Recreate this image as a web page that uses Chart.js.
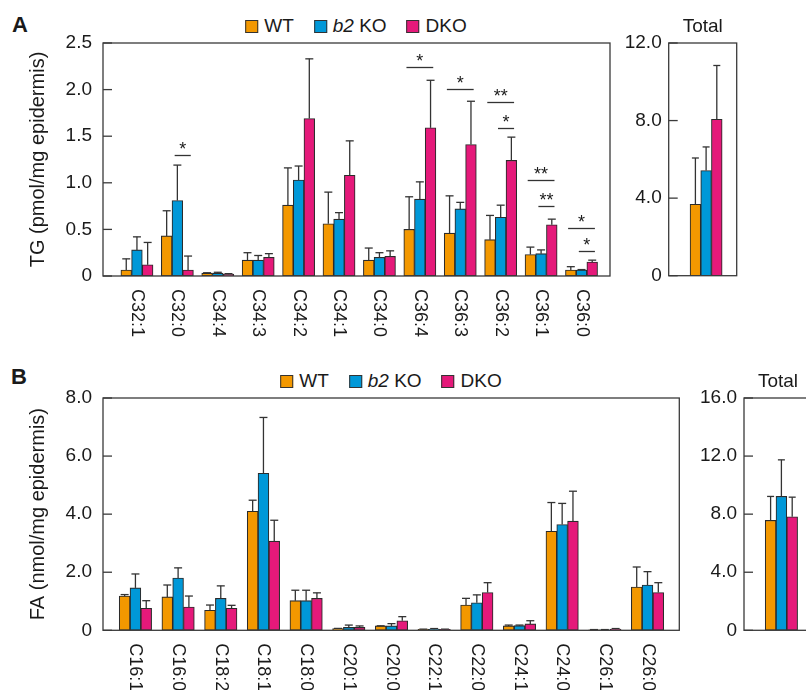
<!DOCTYPE html>
<html><head><meta charset="utf-8">
<script src="https://cdn.jsdelivr.net/npm/chart.js@4.4.1/dist/chart.umd.min.js"></script>
<style>
html,body{margin:0;padding:0;background:#fff;overflow:hidden;width:806px;height:690px;}
body{position:relative;font-family:'Liberation Sans',Arial,sans-serif;color:#1a1a1a;}
canvas{position:absolute;}
.panel{position:absolute;font-weight:bold;font-size:22px;line-height:22px;}
.legend{position:absolute;display:flex;align-items:center;font-size:19px;line-height:22px;white-space:nowrap;transform:translateX(-50%);}
.legend .item{display:flex;align-items:center;margin-right:20px;}
.legend .item:last-child{margin-right:0;}
.legend .sw{width:11px;height:11px;border:1px solid #333;margin-right:6px;}
</style></head>
<body>
<div class="panel" style="left:12px;top:14px;">A</div>
<div class="panel" style="left:11px;top:366px;">B</div>
<div class="legend" id="legA" style="left:356px;top:15px;"></div>
<div class="legend" id="legB" style="left:391px;top:370px;"></div>
<canvas id="cA" style="left:0;top:0;"></canvas>
<canvas id="cAT" style="left:600px;top:0;"></canvas>
<canvas id="cB" style="left:0;top:355px;"></canvas>
<canvas id="cBT" style="left:680px;top:355px;"></canvas>
<script>
// ---------- data ----------
const seriesNames = ['WT', 'b2 KO', 'DKO'];
const seriesColors = ['#F39800', '#0098D8', '#E5197A'];

const tgCategories = ['C32:1','C32:0','C34:4','C34:3','C34:2','C34:1','C34:0','C36:4','C36:3','C36:2','C36:1','C36:0'];
const tgWT     = [0.064,0.43,0.03,0.17,0.76,0.56,0.17,0.50,0.46,0.39,0.23,0.064];
const tgWTErr  = [0.12,0.27,0.005,0.08,0.40,0.34,0.13,0.35,0.40,0.26,0.08,0.036];
const tgB2     = [0.28,0.81,0.03,0.17,1.03,0.61,0.20,0.825,0.72,0.63,0.24,0.064];
const tgB2Err  = [0.14,0.38,0.01,0.05,0.15,0.07,0.05,0.185,0.07,0.13,0.04,0.005];
const tgDKO    = [0.12,0.064,0.02,0.20,1.69,1.08,0.21,1.59,1.41,1.24,0.55,0.15];
const tgDKOErr = [0.24,0.15,0.005,0.04,0.64,0.37,0.06,0.51,0.465,0.25,0.06,0.02];
const tgTicks  = [0,0.5,1.0,1.5,2.0,2.5];
const tgTotal    = [3.68,5.42,8.07];
const tgTotalErr = [2.39,1.22,2.77];
const tgTotalTicks = [0,4,8,12];
const tgSignif = [
  {cat:'C32:0', from:1, to:2, y:1.30, text:'*'},
  {cat:'C36:4', from:0, to:2, y:2.24, text:'*'},
  {cat:'C36:3', from:0, to:2, y:2.01, text:'*'},
  {cat:'C36:2', from:0, to:2, y:1.87, text:'**'},
  {cat:'C36:2', from:1, to:2, y:1.59, text:'*'},
  {cat:'C36:1', from:0, to:2, y:1.03, text:'**'},
  {cat:'C36:1', from:1, to:2, y:0.754, text:'**'},
  {cat:'C36:0', from:0, to:2, y:0.514, text:'*'},
  {cat:'C36:0', from:1, to:2, y:0.268, text:'*'}
];

const faCategories = ['C16:1','C16:0','C18:2','C18:1','C18:0','C20:1','C20:0','C22:1','C22:0','C24:1','C24:0','C26:1','C26:0'];
const faWT     = [1.18,1.15,0.69,4.10,1.02,0.06,0.15,0.03,0.87,0.15,3.41,0.02,1.49];
const faWTErr  = [0.05,0.41,0.18,0.38,0.36,0.005,0.005,0.01,0.23,0.03,0.99,0.005,0.69];
const faB2     = [1.46,1.80,1.10,5.41,1.02,0.10,0.15,0.04,0.95,0.16,3.64,0.02,1.56];
const faB2Err  = [0.48,0.35,0.43,1.92,0.36,0.08,0.08,0.02,0.27,0.02,0.73,0.005,0.46];
const faDKO    = [0.76,0.80,0.76,3.07,1.10,0.10,0.33,0.03,1.30,0.22,3.76,0.04,1.30];
const faDKOErr = [0.26,0.38,0.10,0.72,0.19,0.05,0.14,0.01,0.34,0.11,1.03,0.02,0.34];
const faTicks  = [0,2,4,6,8];
const faTotal    = [7.57,9.22,7.82];
const faTotalErr = [1.65,2.52,1.35];
const faTotalTicks = [0,4,8,12,16];

// ---------- legends ----------
function buildLegend(id){
  const el = document.getElementById(id);
  seriesNames.forEach((n,i)=>{
    const it = document.createElement('div'); it.className='item';
    const sw = document.createElement('div'); sw.className='sw'; sw.style.background=seriesColors[i];
    const tx = document.createElement('span');
    if (n.startsWith('b2')) { tx.innerHTML = '<i>b2</i>' + n.slice(2); } else { tx.textContent = n; }
    it.appendChild(sw); it.appendChild(tx); el.appendChild(it);
  });
}
buildLegend('legA'); buildLegend('legB');

// ---------- plugins ----------
const TEXT = '#1a1a1a';
const FONT = "'Liberation Sans', Arial, sans-serif";
Chart.defaults.font.family = FONT;
Chart.defaults.color = TEXT;

const framePlugin = {
  id: 'frame',
  afterDraw(chart, args, opts) {
    const {ctx, chartArea: a} = chart;
    const ys = chart.scales.y;
    ctx.save();
    ctx.strokeStyle = '#3a3a3a'; ctx.lineWidth = 1.3;
    ctx.strokeRect(a.left, a.top, a.right - a.left, a.bottom - a.top);
    ys.ticks.forEach(t => {
      const y = ys.getPixelForValue(t.value);
      ctx.beginPath(); ctx.moveTo(a.left, y); ctx.lineTo(a.left + 9, y); ctx.stroke();
    });
    ctx.restore();
  }
};
const errPlugin = {
  id: 'errbars',
  afterDatasetsDraw(chart, args, opts) {
    const {ctx} = chart; const ys = chart.scales.y;
    const half = opts.cap || 4;
    ctx.save(); ctx.strokeStyle = '#333'; ctx.lineWidth = 1.3;
    chart.data.datasets.forEach((ds, di) => {
      const meta = chart.getDatasetMeta(di);
      meta.data.forEach((bar, j) => {
        const v = ds.data[j].y, e = ds.errors[j];
        const y1 = ys.getPixelForValue(v + e);
        ctx.beginPath(); ctx.moveTo(bar.x, bar.y); ctx.lineTo(bar.x, y1); ctx.stroke();
        ctx.beginPath(); ctx.moveTo(bar.x - half, y1); ctx.lineTo(bar.x + half, y1); ctx.stroke();
      });
    });
    ctx.restore();
  }
};
const catLabelPlugin = {
  id: 'catLabels',
  afterDraw(chart, args, opts) {
    if (!opts.labels) return;
    const {ctx, chartArea: a} = chart; const xs = chart.scales.x;
    ctx.save(); ctx.fillStyle = TEXT; ctx.font = '18px ' + FONT;
    ctx.textAlign = 'left'; ctx.textBaseline = 'middle';
    opts.labels.forEach((lab, i) => {
      const x = xs.getPixelForValue(i);
      ctx.save(); ctx.translate(x, a.bottom + 13); ctx.rotate(Math.PI / 2);
      ctx.fillText(lab, 0, 0); ctx.restore();
    });
    ctx.restore();
  }
};
const bracketPlugin = {
  id: 'brackets',
  afterDraw(chart, args, opts) {
    if (!opts.items) return;
    const {ctx} = chart; const ys = chart.scales.y;
    ctx.save(); ctx.strokeStyle = '#333'; ctx.lineWidth = 1.3; ctx.fillStyle = TEXT;
    ctx.font = '18px ' + FONT; ctx.textAlign = 'center'; ctx.textBaseline = 'alphabetic';
    opts.items.forEach(b => {
      const idx = opts.labels.indexOf(b.cat);
      const x0 = chart.getDatasetMeta(b.from).data[idx].x - 2.7;
      const x1 = chart.getDatasetMeta(b.to).data[idx].x + 2.7;
      const y = Math.round(ys.getPixelForValue(b.y)) + 0.5;
      ctx.beginPath(); ctx.moveTo(x0, y); ctx.lineTo(x1, y); ctx.stroke();
      ctx.fillText(b.text, (x0 + x1) / 2, y - 1);
    });
    ctx.restore();
  }
};
const titlePlugin = {
  id: 'panelTitle',
  afterDraw(chart, args, opts) {
    if (!opts.text) return;
    const {ctx, chartArea: a} = chart;
    ctx.save(); ctx.fillStyle = TEXT; ctx.font = '19px ' + FONT;
    ctx.textAlign = 'center'; ctx.textBaseline = 'alphabetic';
    ctx.fillText(opts.text, (a.left + a.right) / 2, opts.y);
    ctx.restore();
  }
};

function fmt(v){ return v === 0 ? '0' : Number(v).toFixed(1); }

function datasets(vals, errs, thick){
  return vals.map((arr, i) => ({
    label: seriesNames[i],
    data: arr.map((v, j) => ({x: j, y: v})),
    errors: errs[i],
    backgroundColor: seriesColors[i],
    borderColor: '#2b2b2b',
    borderWidth: 1.1,
    borderSkipped: false,
    barThickness: thick
  }));
}

function makeChart(id, cfg){
  const c = document.getElementById(id);
  c.width = cfg.W; c.height = cfg.H;
  c.style.width = cfg.W + 'px'; c.style.height = cfg.H + 'px';
  return new Chart(c, {
    type: 'bar',
    data: { datasets: datasets(cfg.vals, cfg.errs, cfg.thick) },
    plugins: [errPlugin, framePlugin, catLabelPlugin, bracketPlugin, titlePlugin],
    options: {
      responsive: false, animation: false, devicePixelRatio: 1,
      layout: { padding: { left: 0, top: cfg.top, right: cfg.W - cfg.right, bottom: cfg.H - cfg.bottom } },
      plugins: {
        legend: { display: false }, tooltip: { enabled: false },
        errbars: { cap: cfg.cap },
        catLabels: { labels: cfg.labels },
        brackets: { items: cfg.brackets, labels: cfg.labels },
        panelTitle: { text: cfg.title, y: 32 }
      },
      scales: {
        x: { type: 'linear', display: false, offset: false, min: cfg.xmin, max: cfg.xmax },
        y: {
          min: 0, max: cfg.ticks[cfg.ticks.length - 1],
          afterBuildTicks(s){ s.ticks = cfg.ticks.map(v => ({value: v})); },
          afterFit(s){ s.width = cfg.left; },
          grid: { display: false, drawTicks: false },
          border: { display: false },
          ticks: { padding: cfg.tickPad, color: TEXT, font: { size: 19 }, callback: fmt },
          title: cfg.ytitle ? { display: true, text: cfg.ytitle, color: TEXT, font: { size: 20 }, padding: { top: 26, bottom: 0 } } : { display: false }
        }
      }
    }
  });
}

makeChart('cA', {W: 625, H: 350, left: 103, right: 610, top: 43, bottom: 276,
  xmin: -0.84, xmax: 11.705, thick: 10.7, cap: 4, tickPad: 11,
  vals: [tgWT, tgB2, tgDKO], errs: [tgWTErr, tgB2Err, tgDKOErr],
  ticks: tgTicks, labels: tgCategories, brackets: tgSignif, ytitle: 'TG (pmol/mg epidermis)'});
makeChart('cAT', {W: 160, H: 350, left: 68.7, right: 136.7, top: 43, bottom: 275.7,
  xmin: -0.55, xmax: 0.45, thick: 10.7, cap: 3.5, tickPad: 7,
  vals: [[tgTotal[0]], [tgTotal[1]], [tgTotal[2]]], errs: [[tgTotalErr[0]], [tgTotalErr[1]], [tgTotalErr[2]]],
  ticks: tgTotalTicks, title: 'Total'});
makeChart('cB', {W: 700, H: 335, left: 103, right: 679.3, top: 43, bottom: 275.3,
  xmin: -0.76, xmax: 12.745, thick: 10.8, cap: 4, tickPad: 11,
  vals: [faWT, faB2, faDKO], errs: [faWTErr, faB2Err, faDKOErr],
  ticks: faTicks, labels: faCategories, ytitle: 'FA (nmol/mg epidermis)'});
makeChart('cBT', {W: 140, H: 335, left: 64, right: 132, top: 43, bottom: 275.3,
  xmin: -0.55, xmax: 0.45, thick: 10.8, cap: 3.5, tickPad: 7,
  vals: [[faTotal[0]], [faTotal[1]], [faTotal[2]]], errs: [[faTotalErr[0]], [faTotalErr[1]], [faTotalErr[2]]],
  ticks: faTotalTicks, title: 'Total'});
</script>
</body></html>
